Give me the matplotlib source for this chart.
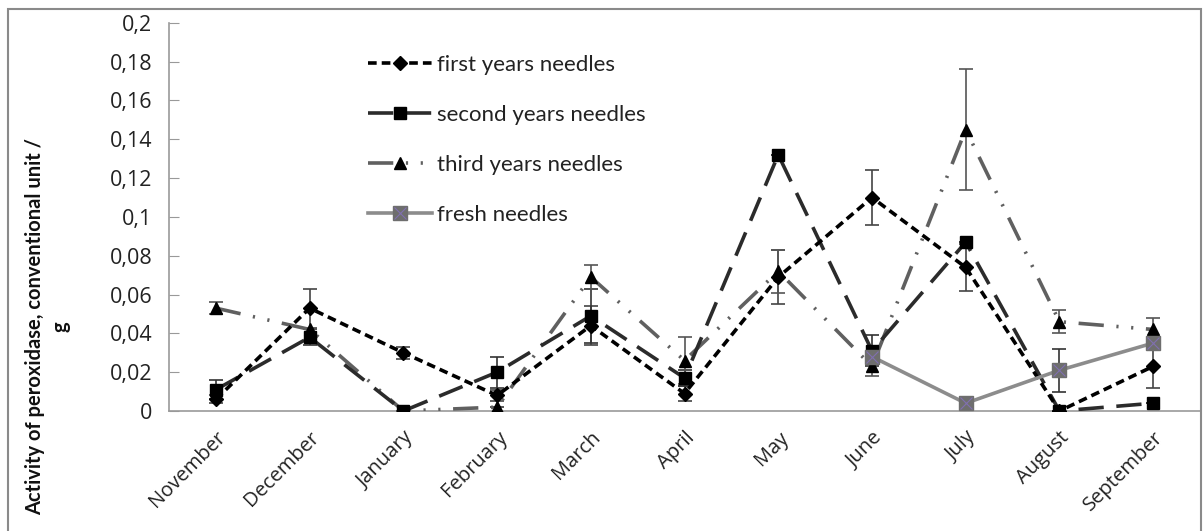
import numpy as np
import matplotlib
matplotlib.use("Agg")
import matplotlib.pyplot as plt
from matplotlib.patches import Rectangle
from matplotlib.ticker import FuncFormatter, MultipleLocator
from matplotlib.legend_handler import HandlerTuple

months = ["November", "December", "January", "February", "March", "April",
          "May", "June", "July", "August", "September"]

# peroxidase activity per needle age group
first_years = [0.006, 0.053, 0.030, 0.008, 0.044, 0.009, 0.069, 0.110, 0.074, 0.0, 0.023]
first_err = [0.002, 0.010, 0.003, 0.003, 0.010, 0.004, 0.014, 0.014, 0.012, 0.0, 0.011]

second_years = [0.011, 0.038, 0.0, 0.020, 0.049, 0.017, 0.132, 0.031, 0.087, 0.0, 0.004]
second_err = [0.005, 0.004, 0.0, 0.008, 0.014, 0.004, 0.0, 0.008, 0.0, 0.0, 0.0]

third_years = [0.053, 0.042, 0.0, 0.002, 0.069, 0.026, 0.072, 0.023, 0.145, 0.046, 0.042]
third_err = [0.003, 0.0, 0.0, 0.0, 0.006, 0.012, 0.011, 0.005, 0.031, 0.006, 0.006]

fresh = [np.nan, np.nan, np.nan, np.nan, np.nan, np.nan, np.nan, 0.028, 0.004, 0.021, 0.035]
fresh_err = [0, 0, 0, 0, 0, 0, 0, 0.0, 0.0, 0.011, 0.0]

fig = plt.figure(figsize=(12.04, 5.31), dpi=100)
ax = fig.add_axes([0.1404, 0.226, 0.8563, 0.731])

x = np.arange(len(months))

# first years: short black dashes, diamonds
ax.errorbar(x, first_years, yerr=first_err, fmt="none", ecolor="#444444",
            elinewidth=1.2, capsize=5, capthick=1.2, zorder=3)
l1, = ax.plot(x, first_years, color="black", lw=2.6, dashes=(2.4, 1.4),
              marker="D", ms=7, mfc="black", mec="black", zorder=6)

# second years: long dark dashes, squares
ax.errorbar(x, second_years, yerr=second_err, fmt="none", ecolor="#333333",
            elinewidth=1.2, capsize=5, capthick=1.2, zorder=3)
l2, = ax.plot(x, second_years, color="#2b2b2b", lw=2.6, dashes=(7, 3.5),
              marker="s", ms=9, mfc="black", mec="black", zorder=5)

# third years: grey dash-dot-dot, triangles
ax.errorbar(x, third_years, yerr=third_err, fmt="none", ecolor="#555555",
            elinewidth=1.2, capsize=5, capthick=1.2, zorder=3)
l3, = ax.plot(x, third_years, color="#606060", lw=2.6,
              dashes=(7, 3.5, 0.6, 3.5, 0.6, 3.5),
              marker="^", ms=9, mfc="black", mec="black", zorder=4)

# fresh needles: light grey solid, grey squares with purple cross
ax.errorbar(x, fresh, yerr=fresh_err, fmt="none", ecolor="#333333",
            elinewidth=1.2, capsize=5, capthick=1.2, zorder=3)
l4, = ax.plot(x, fresh, color="#8c8c8c", lw=2.6, marker="s", ms=10,
              mfc="#6e6e6e", mec="#6e6e6e", zorder=7)
l4x, = ax.plot(x, fresh, ls="none", marker="x", ms=9, mew=0.8,
               color="#8070b0", zorder=8)

ax.set_xlim(-0.5, len(months) - 0.5)
ax.set_ylim(0, 0.2)
ax.yaxis.set_major_locator(MultipleLocator(0.02))
ax.yaxis.set_major_formatter(
    FuncFormatter(lambda v, p: f"{round(v, 2):g}".replace(".", ",")))

ax.set_xticks(x)
ax.set_xticklabels(months, rotation=45, ha="right", va="top",
                   rotation_mode="anchor", fontsize=14.5, family="Open Sans",
                   color="#222222")
ax.tick_params(axis="x", length=0, pad=12)
ax.tick_params(axis="y", direction="in", length=7, color="#999999",
               labelsize=15.5, labelcolor="#222222", pad=12)
for lab in ax.get_yticklabels():
    lab.set_family("Open Sans")

for side in ["top", "right"]:
    ax.spines[side].set_visible(False)
for side in ["left", "bottom"]:
    ax.spines[side].set_color("#999999")
    ax.spines[side].set_linewidth(1.2)

fig.text(0.040, 0.385, "Activity of peroxidase, conventional unit /\ng",
         rotation=90, ha="center", va="center", multialignment="center",
         fontsize=14.5, family="Lato", weight="bold", color="#111111",
         linespacing=1.35)

ax.legend([l1, l2, l3, (l4, l4x)],
          ["first years needles", "second years needles",
           "third years needles", "fresh needles"],
          handler_map={tuple: HandlerTuple(ndivide=1, pad=0)},
          loc="upper left", bbox_to_anchor=(0.289, 0.935),
          bbox_transform=fig.transFigure, frameon=False,
          prop={"family": "Lato", "size": 16}, labelcolor="#222222",
          handlelength=2.9, handletextpad=0.2, labelspacing=1.35)

# outer chart border
fig.patches.append(Rectangle((0.0066, -0.01), 0.9905, 0.993,
                             transform=fig.transFigure, fill=False,
                             edgecolor="#8a8a8a", lw=1.5))

fig.savefig("out.png", dpi=100)
